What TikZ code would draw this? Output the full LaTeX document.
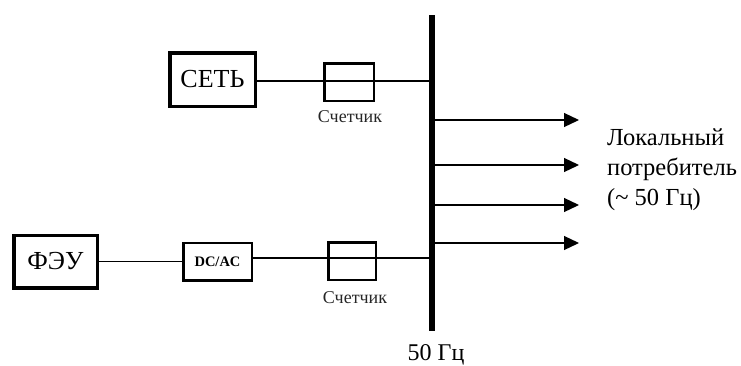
\documentclass[tikz,border=0pt]{standalone}
\usepackage{fontspec}
\setmainfont{Liberation Serif}
\usepackage{xcolor}
\usetikzlibrary{arrows.meta}
\tikzset{
	bigbox/.style={draw, line width=3.5pt, inner sep=0pt, font=\fontsize{26}{28}\selectfont},
	smallbox/.style={draw, line width=2.5pt, inner sep=0pt},
	caption/.style={font=\fontsize{18}{20}\selectfont, text=black!85},
	line/.style={draw, line width=1.1pt},
	feed/.style={line width=1.2pt, -{Triangle[length=15pt, width=14pt]}},
}
\begin{document}
\begin{tikzpicture}[x=1pt, y=-1pt]
	\useasboundingbox (0,0) rectangle (741,365);
	\node[bigbox, minimum width=85.5pt, minimum height=53.5pt] (grid) at (212.5,79.5) {СЕТЬ};
	\node[bigbox, minimum width=83.5pt, minimum height=52.5pt] (pv) at (55.5,261.5) {ФЭУ};
	\node[smallbox, minimum width=68.5pt, minimum height=37.5pt, font=\bfseries\fontsize{14.5}{16}\selectfont] (inv) at (217.5,261.5) {DC/AC};
	\node[smallbox, minimum width=49.5pt, minimum height=37.5pt] (meterA) at (349,82) {};
	\node[smallbox, minimum width=47.5pt, minimum height=37.5pt] (meterB) at (352,261) {};
	\node[caption] (labelA) at (350,117) {Счетчик};
	\node[caption] (labelB) at (355,298) {Счетчик};

	\coordinate (bustop) at (432,15);
	\coordinate (busbot) at (432,331);
	\coordinate (busA) at (432,81);
	\coordinate (busB) at (432,258);
	\draw[line] (grid.east |- busA) -- (busA);
	\draw[line] (pv) -- (inv);
	\draw[line] (inv.east |- busB) -- (busB);
	\draw[line width=6.5pt] (bustop) -- (busbot);
	\node[inner sep=0pt, font=\fontsize{24}{26}\selectfont] (freq) at (436,355) {50 Гц};

	\foreach \name/\ypos in {a/120, b/165, c/205, d/243}{
		\coordinate (out\name) at (432,\ypos);
		\coordinate (tip\name) at (579,\ypos);
		\draw[feed] (out\name) -- (tip\name);
	}
	\node[align=left, anchor=north west, inner sep=0pt, font=\fontsize{24.5}{30}\selectfont] (load) at (607,129) {Локальный\\потребитель\\(\textasciitilde{} 50 Гц)};
\end{tikzpicture}
\end{document}
